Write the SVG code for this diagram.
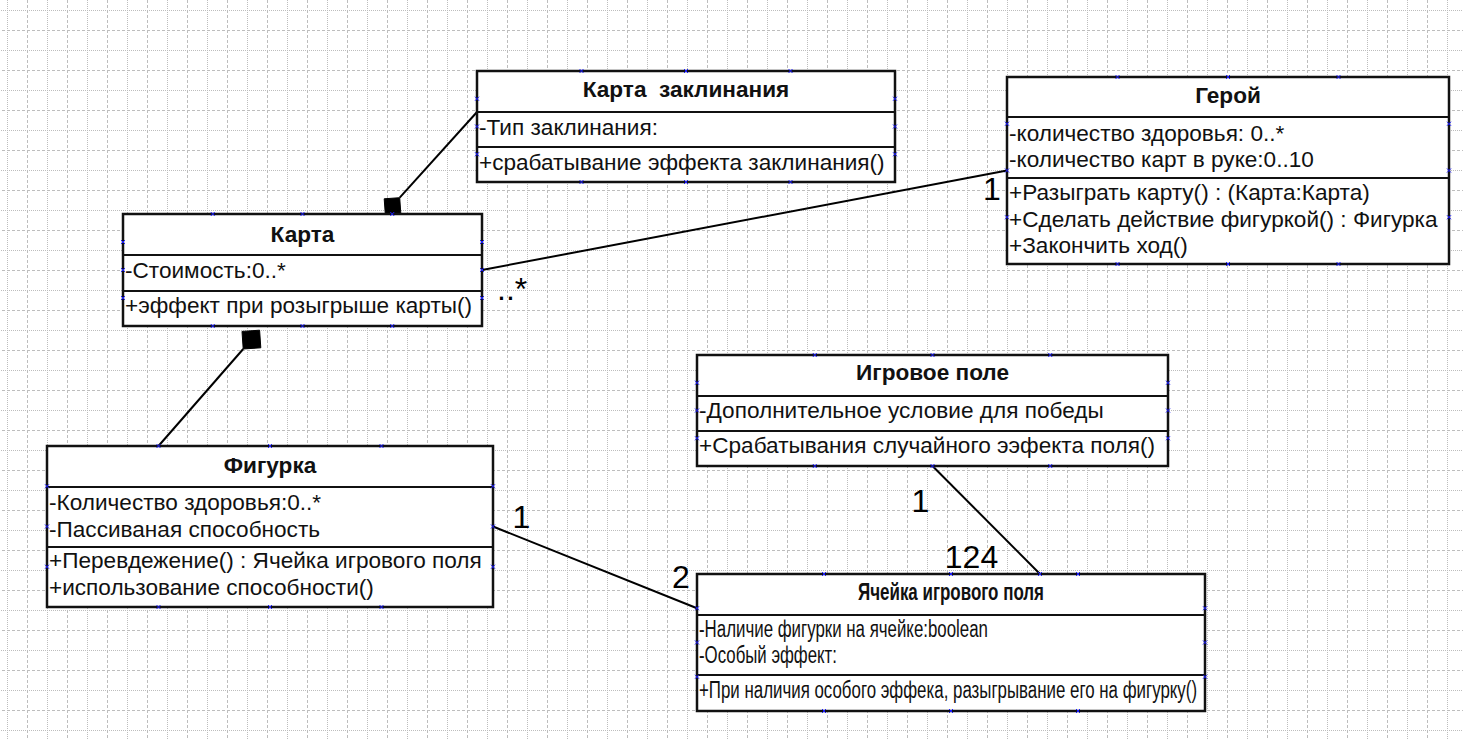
<svg xmlns="http://www.w3.org/2000/svg" width="1463" height="739" viewBox="0 0 1463 739">
<defs>
<style>
.box{fill:#fff;stroke:#111;stroke-width:2.5}
.dv{stroke:#111;stroke-width:2.2}
.t{font-family:"Liberation Sans",Arial,sans-serif;font-size:22.6px;fill:#111}
.tt{font-weight:bold;text-anchor:middle}
.n{font-family:"Liberation Sans Narrow","Liberation Sans",Arial,sans-serif;font-size:23px;fill:#111}
.nb{font-weight:bold}
.conn{stroke:#000;stroke-width:2;fill:none}
.dia{fill:#000;stroke:#000;stroke-width:1}
.mult{font-family:"Liberation Sans",Arial,sans-serif;font-size:32px;fill:#000}
.mk{stroke:#1a1aff;stroke-width:1;fill:none}
</style>
<pattern id="grid" patternUnits="userSpaceOnUse" x="7" y="10" width="40" height="40">
<line x1="0.5" y1="0" x2="0.5" y2="40" stroke="#bdbdbd" stroke-width="1" stroke-dasharray="1,1"/>
<line x1="20.5" y1="0" x2="20.5" y2="40" stroke="#bdbdbd" stroke-width="1" stroke-dasharray="3,2"/>
<line x1="0" y1="0.5" x2="40" y2="0.5" stroke="#bdbdbd" stroke-width="1" stroke-dasharray="1,1"/>
<line x1="0" y1="20.5" x2="40" y2="20.5" stroke="#bdbdbd" stroke-width="1" stroke-dasharray="3,2"/>
</pattern>
<path id="m" class="mk" d="M-2,-2L2,2M-2,2L2,-2"/>
</defs>
<rect width="1463" height="739" fill="#fff"/>
<rect width="1463" height="739" fill="url(#grid)"/>

<g id="connectors">
<line class="conn" x1="399.7" y1="197.7" x2="477" y2="112"/>
<path class="dia" d="M385.3,214.3 L400.8,213.2 L399.7,197.7 L384.2,198.8 Z"/>
<line class="conn" x1="243.2" y1="349" x2="158.5" y2="446"/>
<path class="dia" d="M259.6,330.2 L260.8,347.8 L243.2,349 L242,331.4 Z"/>
<line class="conn" x1="482" y1="270" x2="1007" y2="170.5"/>
<line class="conn" x1="493" y1="526.5" x2="697" y2="608.25"/>
<line class="conn" x1="932.5" y1="466" x2="1040" y2="574"/>
<text class="mult" x="497" y="300">..*</text>
<text class="mult" x="983" y="200">1</text>
<text class="mult" x="512.5" y="528">1</text>
<text class="mult" x="672" y="588">2</text>
<text class="mult" x="911.5" y="512">1</text>
<text class="mult" x="944.8" y="568">124</text>
</g>

<g id="node-karta-zaklinaniya">
<rect class="box" x="477" y="71" width="418" height="111"/>
<line class="dv" x1="477" y1="112" x2="895" y2="112"/>
<line class="dv" x1="477" y1="147" x2="895" y2="147"/>
<text class="t tt" x="686" y="97" style="white-space:pre">Карта  заклинания</text>
<text class="t" x="479" y="135">-Тип заклинания:</text>
<text class="t" x="479" y="170">+срабатывание эффекта заклинания()</text>
<use href="#m" x="581.5" y="71"/><use href="#m" x="686" y="71"/><use href="#m" x="790.5" y="71"/>
<use href="#m" x="581.5" y="182"/><use href="#m" x="686" y="182"/><use href="#m" x="790.5" y="182"/>
<use href="#m" x="477" y="98.75"/><use href="#m" x="477" y="126.5"/><use href="#m" x="477" y="154.25"/>
<use href="#m" x="895" y="98.75"/><use href="#m" x="895" y="126.5"/><use href="#m" x="895" y="154.25"/>
</g>

<g id="node-karta">
<rect class="box" x="123" y="214" width="359" height="112"/>
<line class="dv" x1="123" y1="255" x2="482" y2="255"/>
<line class="dv" x1="123" y1="291" x2="482" y2="291"/>
<text class="t tt" x="302.5" y="242">Карта</text>
<text class="t" x="125" y="278">-Стоимость:0..*</text>
<text class="t" x="125" y="313">+эффект при розыгрыше карты()</text>
<use href="#m" x="212.75" y="214"/><use href="#m" x="302.5" y="214"/><use href="#m" x="392.25" y="214"/>
<use href="#m" x="212.75" y="326"/><use href="#m" x="302.5" y="326"/><use href="#m" x="392.25" y="326"/>
<use href="#m" x="123" y="242"/><use href="#m" x="123" y="270"/><use href="#m" x="123" y="298"/>
<use href="#m" x="482" y="242"/><use href="#m" x="482" y="270"/><use href="#m" x="482" y="298"/>
</g>

<g id="node-geroy">
<rect class="box" x="1007" y="77" width="442" height="187"/>
<line class="dv" x1="1007" y1="117" x2="1449" y2="117"/>
<line class="dv" x1="1007" y1="178" x2="1449" y2="178"/>
<text class="t tt" x="1228" y="103">Герой</text>
<text class="t" x="1009" y="141">-количество здоровья: 0..*</text>
<text class="t" x="1009" y="167">-количество карт в руке:0..10</text>
<text class="t" x="1009" y="200">+Разыграть карту() : (Карта:Карта)</text>
<text class="t" x="1009" y="227">+Сделать действие фигуркой() : Фигурка</text>
<text class="t" x="1009" y="253">+Закончить ход()</text>
<use href="#m" x="1117.5" y="77"/><use href="#m" x="1228" y="77"/><use href="#m" x="1338.5" y="77"/>
<use href="#m" x="1117.5" y="264"/><use href="#m" x="1228" y="264"/><use href="#m" x="1338.5" y="264"/>
<use href="#m" x="1007" y="123.75"/><use href="#m" x="1007" y="170.5"/><use href="#m" x="1007" y="217.25"/>
<use href="#m" x="1449" y="123.75"/><use href="#m" x="1449" y="170.5"/><use href="#m" x="1449" y="217.25"/>
</g>

<g id="node-figurka">
<rect class="box" x="47" y="446" width="446" height="161"/>
<line class="dv" x1="47" y1="487" x2="493" y2="487"/>
<line class="dv" x1="47" y1="547" x2="493" y2="547"/>
<text class="t tt" x="270" y="473">Фигурка</text>
<text class="t" x="49" y="510">-Количество здоровья:0..*</text>
<text class="t" x="49" y="537">-Пассиваная способность</text>
<text class="t" x="49" y="568">+Перевдежение() : Ячейка игрового поля</text>
<text class="t" x="49" y="595">+использование способности()</text>
<use href="#m" x="158.5" y="446"/><use href="#m" x="270" y="446"/><use href="#m" x="381.5" y="446"/>
<use href="#m" x="158.5" y="607"/><use href="#m" x="270" y="607"/><use href="#m" x="381.5" y="607"/>
<use href="#m" x="47" y="486.25"/><use href="#m" x="47" y="526.5"/><use href="#m" x="47" y="566.75"/>
<use href="#m" x="493" y="486.25"/><use href="#m" x="493" y="526.5"/><use href="#m" x="493" y="566.75"/>
</g>

<g id="node-igrovoe-pole">
<rect class="box" x="697" y="355" width="471" height="111"/>
<line class="dv" x1="697" y1="396" x2="1168" y2="396"/>
<line class="dv" x1="697" y1="431" x2="1168" y2="431"/>
<text class="t tt" x="932.5" y="380">Игровое поле</text>
<text class="t" x="699" y="418">-Дополнительное условие для победы</text>
<text class="t" x="699" y="453">+Срабатывания случайного ээфекта поля()</text>
<use href="#m" x="814.75" y="355"/><use href="#m" x="932.5" y="355"/><use href="#m" x="1050.25" y="355"/>
<use href="#m" x="814.75" y="466"/><use href="#m" x="932.5" y="466"/><use href="#m" x="1050.25" y="466"/>
<use href="#m" x="697" y="382.75"/><use href="#m" x="697" y="410.5"/><use href="#m" x="697" y="438.25"/>
<use href="#m" x="1168" y="382.75"/><use href="#m" x="1168" y="410.5"/><use href="#m" x="1168" y="438.25"/>
</g>

<g id="node-yacheyka">
<rect class="box" x="697" y="574" width="508" height="137"/>
<line class="dv" x1="697" y1="615" x2="1205" y2="615"/>
<line class="dv" x1="697" y1="675" x2="1205" y2="675"/>
<text class="n nb" x="858" y="600" textLength="186" lengthAdjust="spacingAndGlyphs">Ячейка игрового поля</text>
<text class="n" x="699" y="637" textLength="289" lengthAdjust="spacingAndGlyphs">-Наличие фигурки на ячейке:boolean</text>
<text class="n" x="699" y="663" textLength="138" lengthAdjust="spacingAndGlyphs">-Особый эффект:</text>
<text class="n" x="699" y="698" textLength="498" lengthAdjust="spacingAndGlyphs">+При наличия особого эффека, разыгрывание его на фигурку()</text>
<use href="#m" x="824" y="574"/><use href="#m" x="951" y="574"/><use href="#m" x="1078" y="574"/><use href="#m" x="1040" y="574"/>
<use href="#m" x="824" y="711"/><use href="#m" x="951" y="711"/><use href="#m" x="1078" y="711"/>
<use href="#m" x="697" y="608.25"/><use href="#m" x="697" y="642.5"/><use href="#m" x="697" y="676.75"/>
<use href="#m" x="1205" y="608.25"/><use href="#m" x="1205" y="642.5"/><use href="#m" x="1205" y="676.75"/>
</g>
</svg>
